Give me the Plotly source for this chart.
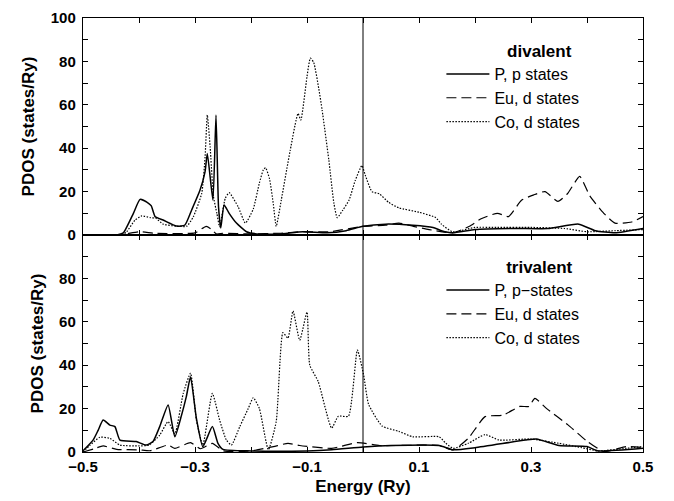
import plotly.graph_objects as go

# ---------------- data ----------------
# top panel: divalent
E_P_div = [-0.5, -0.44, -0.428, -0.41, -0.398, -0.383, -0.378, -0.371, -0.357, -0.333, -0.318, -0.306,
           -0.291, -0.282, -0.278, -0.268, -0.2625, -0.258, -0.254, -0.248, -0.239, -0.226, -0.208,
           -0.19, -0.15, -0.107, -0.064, -0.03, 0.0, 0.04, 0.089, 0.125, 0.14, 0.16, 0.2, 0.27, 0.33,
           0.385, 0.415, 0.45, 0.5]
P_div = [0, 0, 1, 10, 16.4, 14.6, 13.4, 8.4, 6.9, 4.1, 4.6, 11.5,
         20.7, 29.2, 37.6, 16.1, 55.3, 13, 3.2, 13.8, 10, 5.5, 1.5,
         0.5, 0.5, 1.5, 1, 2, 4, 5, 4.5, 3.5, 2, 1, 2.5, 3, 3,
         5, 2, 1, 3]

E_Eu_div = [-0.5, -0.43, -0.4, -0.37, -0.3, -0.28, -0.27, -0.262, -0.25, -0.2, -0.15, -0.11, -0.06,
            0.0, 0.04, 0.064, 0.09, 0.118, 0.16, 0.19, 0.211, 0.24, 0.26, 0.283, 0.305, 0.325, 0.348,
            0.365, 0.387, 0.405, 0.43, 0.45, 0.48, 0.5]
Eu_div = [0, 0.3, 1.5, 0.8, 1, 4, 2.5, 0.5, 0.8, 0.5, 0.8, 1.5, 1.5,
          4, 4.5, 5.5, 4, 2.5, 1, 4, 7.5, 10, 8.5, 16, 18.5, 20, 15.5,
          19, 27, 18, 10, 5.5, 6, 8.5]

E_Co_div = [-0.5, -0.43, -0.422, -0.407, -0.395, -0.38, -0.37, -0.357, -0.333, -0.315, -0.303, -0.288,
            -0.282, -0.278, -0.273, -0.267, -0.261, -0.256, -0.246, -0.239, -0.223, -0.21, -0.196,
            -0.185, -0.178, -0.174, -0.167, -0.16, -0.155, -0.146, -0.13, -0.116, -0.111, -0.1,
            -0.094, -0.088, -0.079, -0.073, -0.061, -0.052, -0.046, -0.036, -0.025, -0.014, -0.002,
            0.004, 0.016, 0.029, 0.046, 0.064, 0.1, 0.13, 0.14, 0.16, 0.2, 0.24, 0.3, 0.36, 0.4,
            0.45, 0.5]
Co_div = [0, 0, 1.5, 6.9, 8.8, 8, 7.7, 5, 4.1, 4, 8.4, 19.2,
          36, 55.3, 40.7, 17.7, 10, 3.8, 16.9, 19.5, 13, 5.5, 12,
          24, 30, 31, 26, 14, 4, 16, 39, 56, 53, 73,
          81.5, 79.5, 67.5, 57.6, 34.5, 14.7, 8, 11.5, 16, 25, 32,
          27.6, 20, 19, 15, 12.5, 10.5, 8, 5, 1.5, 3.5, 3.5, 3.5, 3, 1.5,
          2, 2.5]

# bottom panel: trivalent
E_P_tri = [-0.5, -0.482, -0.473, -0.464, -0.452, -0.443, -0.434, -0.405, -0.387, -0.375, -0.363, -0.348,
           -0.336, -0.324, -0.3155, -0.308, -0.2975, -0.286, -0.269, -0.259, -0.25, -0.2, -0.1, -0.056,
           0.0, 0.05, 0.136, 0.161, 0.2, 0.29, 0.31, 0.35, 0.4, 0.42, 0.5]
P_tri = [0.6, 5.5, 10, 14.7, 12.4, 11.7, 5.5, 4.8, 3.2, 4.8, 11.7, 21.7,
         7, 17, 25.5, 34.7, 15.5, 2.5, 11.7, 4, 1.2, 0.5, 0.5, 1,
         2.3, 3, 3, 1, 2, 5.5, 6, 3, 2.5, 0.5, 1.7]

E_Eu_tri = [-0.5, -0.48, -0.464, -0.44, -0.4, -0.38, -0.348, -0.336, -0.308, -0.29, -0.269, -0.25, -0.2,
            -0.16, -0.134, -0.113, -0.056, -0.01, 0.03, 0.136, 0.161, 0.188, 0.218, 0.25, 0.28, 0.296,
            0.307, 0.328, 0.366, 0.4, 0.43, 0.47, 0.5]
Eu_tri = [0, 1.5, 2.8, 1.2, 1, 0.6, 3.2, 1.7, 4.3, 1.5, 4, 0.6, 0.5,
          2.5, 4, 3, 1.7, 4.3, 3, 3, 1, 6.3, 16.3, 17, 21, 21,
          24.7, 20, 12.5, 5, 0.2, 2.5, 2]

E_Co_tri = [-0.5, -0.488, -0.47, -0.452, -0.434, -0.4, -0.382, -0.363, -0.348, -0.336, -0.321, -0.308,
            -0.2975, -0.286, -0.269, -0.256, -0.244, -0.235, -0.22, -0.205, -0.196, -0.185, -0.169,
            -0.155, -0.143, -0.134, -0.125, -0.113, -0.1, -0.095, -0.08, -0.056, -0.044, -0.026,
            -0.01, 0.001, 0.01, 0.034, 0.064, 0.089, 0.136, 0.148, 0.161, 0.188, 0.218, 0.243, 0.3,
            0.35, 0.39, 0.42, 0.47, 0.5]
Co_tri = [0, 3, 6.8, 6.3, 3.2, 2.8, 3.2, 7.8, 14, 8.4, 27, 36.3,
          14.7, 3.2, 27, 14.7, 5.5, 3.2, 11.7, 20, 25, 20, 1,
          14, 55, 52.5, 65, 51.5, 64.5, 40, 32.5, 11, 16.5, 16.5,
          47, 35.6, 22, 12, 9.5, 7, 7, 4, 1.7, 4, 8, 5.5, 6,
          4, 2, 0.5, 1.7, 2.5]

x_tickvals = [-0.5, -0.4, -0.3, -0.2, -0.1, 0.0, 0.1, 0.2, 0.3, 0.4, 0.5]
x_ticktext = ["\u22120.5", "", "\u22120.3", "", "\u22120.1", "", "0.1", "", "0.3", "", "0.5"]
y_tickvals = [0, 10, 20, 30, 40, 50, 60, 70, 80, 90, 100]
y_ticktext_top = ["0", "", "20", "", "40", "", "60", "", "80", "", "100"]
y_ticktext_bot = ["0", "", "20", "", "40", "", "60", "", "80", "", ""]

# ---------------- figure ----------------
FONT = "Liberation Sans, Arial, Helvetica, sans-serif"
solid = dict(color="black", width=1.5, shape="spline", smoothing=0.5)
dashed = dict(color="black", width=1.2, dash="10px,5px", shape="spline", smoothing=0.5)
dotted = dict(color="black", width=1.2, dash="1.5px,1.5px", shape="spline", smoothing=0.5)

fig = go.Figure()
fig.add_trace(go.Scatter(x=E_P_div, y=P_div, mode="lines", line=solid, name="P, p states",
                         xaxis="x2", yaxis="y2", legend="legend"))
fig.add_trace(go.Scatter(x=E_Eu_div, y=Eu_div, mode="lines", line=dashed, name="Eu, d states",
                         xaxis="x2", yaxis="y2", legend="legend"))
fig.add_trace(go.Scatter(x=E_Co_div, y=Co_div, mode="lines", line=dotted, name="Co, d states",
                         xaxis="x2", yaxis="y2", legend="legend"))
fig.add_trace(go.Scatter(x=E_P_tri, y=P_tri, mode="lines", line=solid, name="P, p\u2212states",
                         xaxis="x", yaxis="y", legend="legend2"))
fig.add_trace(go.Scatter(x=E_Eu_tri, y=Eu_tri, mode="lines", line=dashed, name="Eu, d states",
                         xaxis="x", yaxis="y", legend="legend2"))
fig.add_trace(go.Scatter(x=E_Co_tri, y=Co_tri, mode="lines", line=dotted, name="Co, d states",
                         xaxis="x", yaxis="y", legend="legend2"))

axis_common = dict(showline=True, linecolor="black", linewidth=1.4, mirror="ticks",
                   ticks="inside", ticklen=5, tickwidth=1.2, tickcolor="black",
                   showgrid=False, zeroline=False, automargin=False,
                   tickfont=dict(family=FONT, size=15, color="black", weight="bold"))

NB = "\u00a0" * 11

# the page body has an 8 px margin: the figure is sized to fit inside the window
fig.update_layout(
    width=666, height=493,
    margin=dict(l=75, r=31, t=10, b=49, autoexpand=False),
    paper_bgcolor="white", plot_bgcolor="white",
    font=dict(family=FONT, color="black"),
    xaxis=dict(range=[-0.5, 0.5], anchor="y", tickvals=x_tickvals, ticktext=x_ticktext,
               ticklabelstandoff=1,
               title=dict(text="<b>Energy (Ry)</b>", font=dict(family=FONT, size=17), standoff=5),
               **axis_common),
    xaxis2=dict(range=[-0.5, 0.5], anchor="y2", matches="x", tickvals=x_tickvals,
                ticktext=[""] * len(x_tickvals), **axis_common),
    yaxis=dict(range=[0, 100], domain=[0, 0.5], anchor="x", tickvals=y_tickvals,
               ticktext=y_ticktext_bot, ticklabelstandoff=3,
               title=dict(text="<b>PDOS (states/Ry)</b>", font=dict(family=FONT, size=17), standoff=11),
               **axis_common),
    yaxis2=dict(range=[0, 100], domain=[0.5, 1], anchor="x2", tickvals=y_tickvals,
                ticktext=y_ticktext_top, ticklabelstandoff=3,
                title=dict(text="<b>PDOS (states/Ry)</b>", font=dict(family=FONT, size=17), standoff=11),
                **axis_common),
    legend=dict(x=0.64, y=0.961, xanchor="left", yanchor="top", bgcolor="rgba(0,0,0,0)",
                itemwidth=43, tracegroupgap=0,
                font=dict(family=FONT, size=16, color="black"),
                title=dict(text=NB + "<b>divalent</b>", side="top center",
                           font=dict(family=FONT, size=17, color="black"))),
    legend2=dict(x=0.64, y=0.463, xanchor="left", yanchor="top", bgcolor="rgba(0,0,0,0)",
                 itemwidth=43, tracegroupgap=0,
                 font=dict(family=FONT, size=16, color="black"),
                 title=dict(text=NB + "<b>trivalent</b>", side="top center",
                            font=dict(family=FONT, size=17, color="black"))),
    shapes=[dict(type="line", xref="x", yref="paper", x0=0, x1=0, y0=0, y1=1,
                 line=dict(color="black", width=1))],
)

fig.write_html("out.html")
